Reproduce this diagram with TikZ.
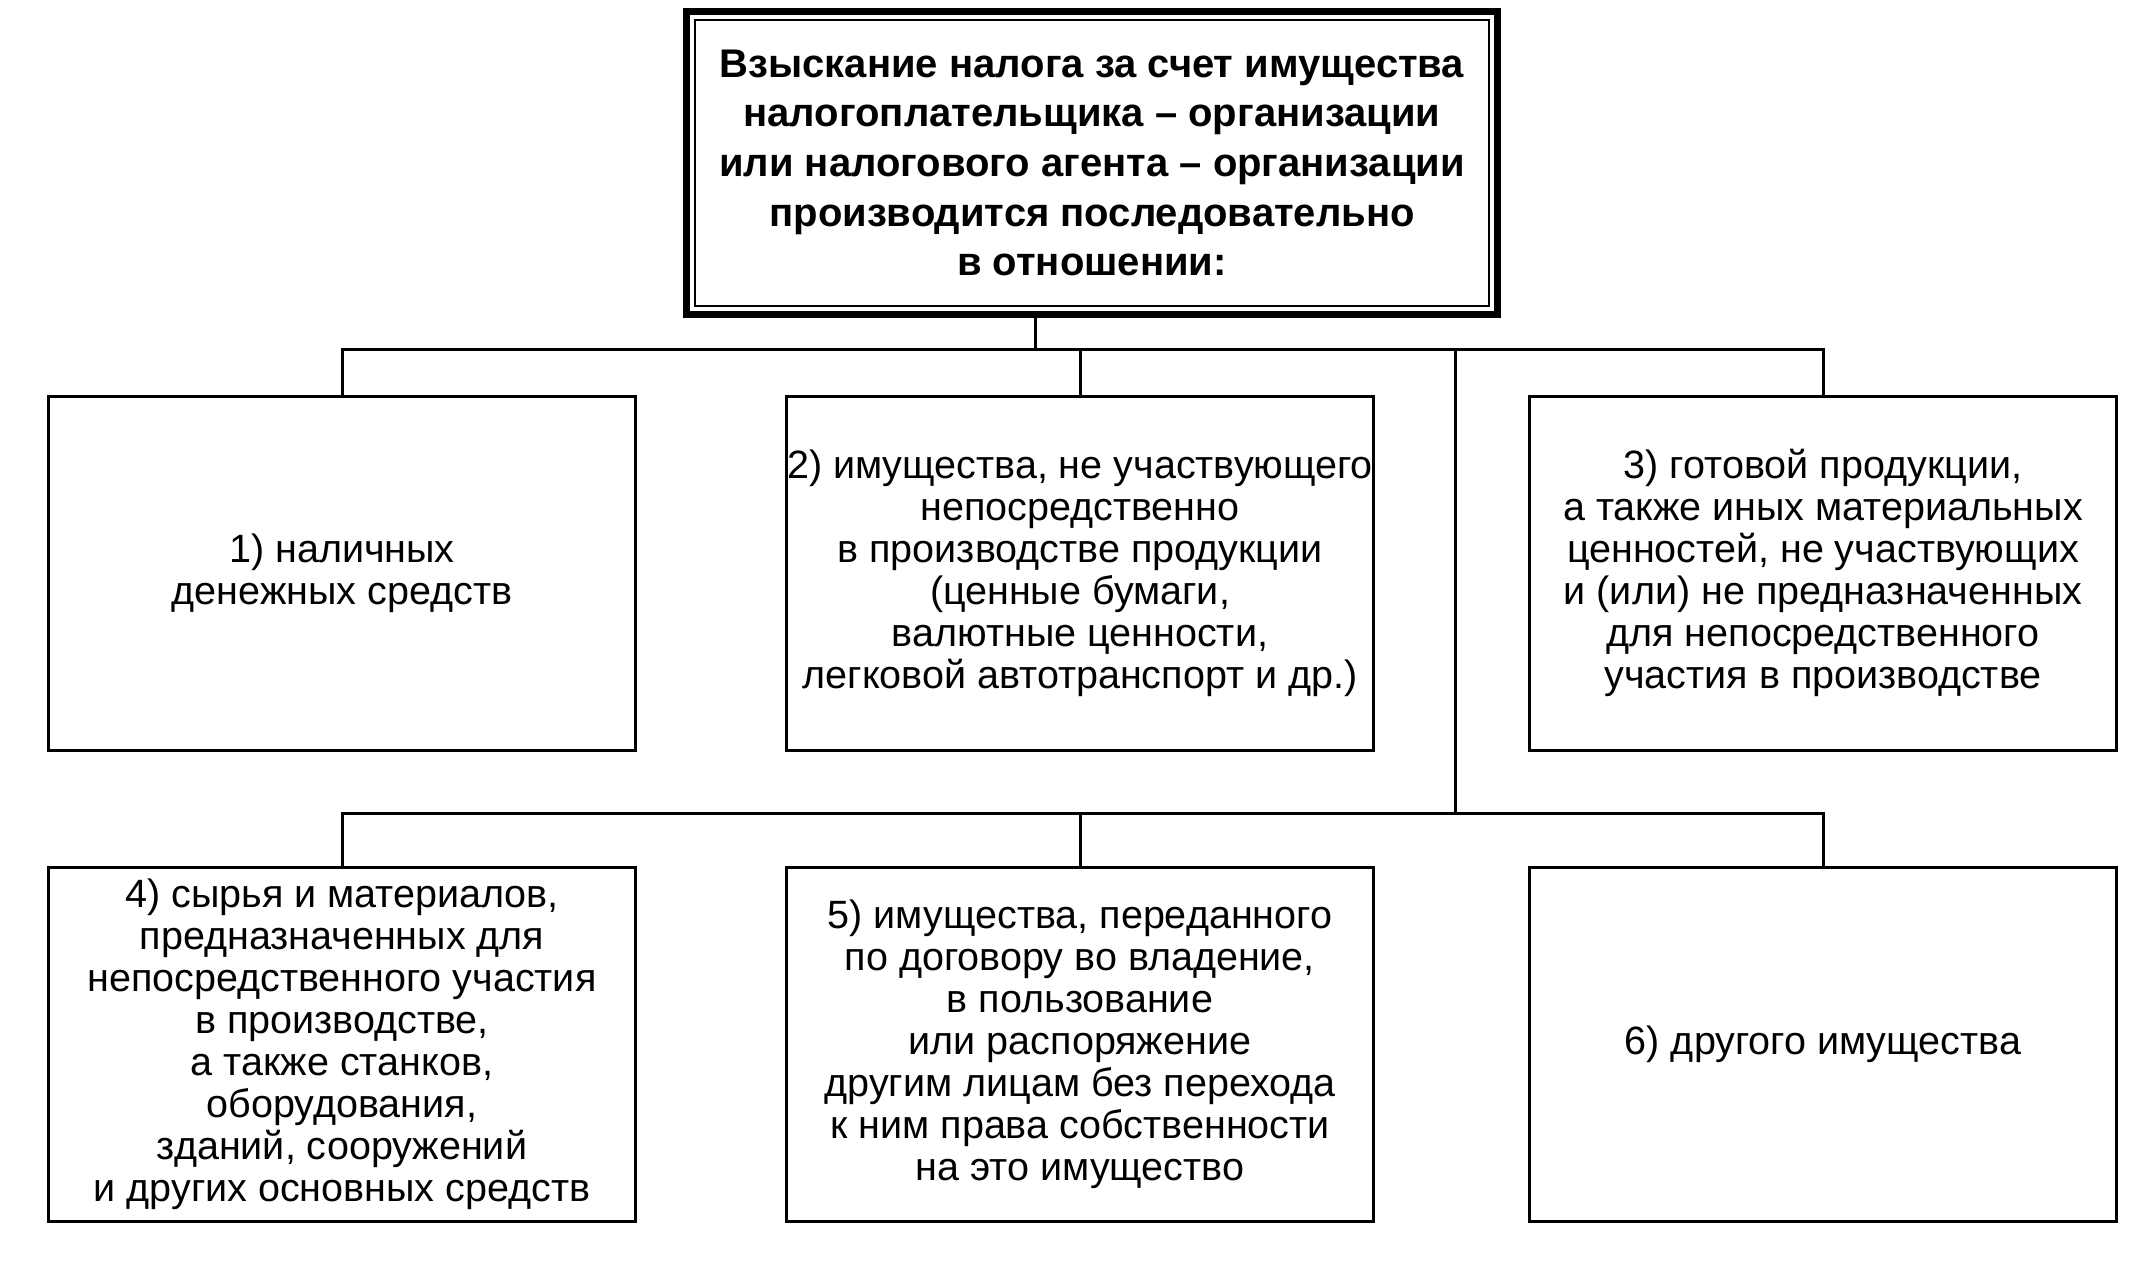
\documentclass[tikz,border=0pt]{standalone}
\usepackage{fontspec}
\setmainfont{Liberation Sans}
\begin{document}
\begin{tikzpicture}[x=1pt,y=-1pt,
  box/.style={draw, line width=3pt, minimum width=587pt, minimum height=354pt,
    align=center, inner sep=0pt, font=\fontsize{39.5}{42}\selectfont},
  topbox/.style={draw, line width=7pt, minimum width=811pt, minimum height=303pt,
    align=center, inner sep=0pt, font=\bfseries\fontsize{40}{49.6}\selectfont},
  conn/.style={line width=3pt, line cap=rect}]
\useasboundingbox[fill=white] (0,0) rectangle (2143,1262);
\node[topbox] (top) at (1092,163) {Взыскание налога за счет имущества\\налогоплательщика – организации\\или налогового агента – организации\\производится последовательно\\в отношении:};
\draw[line width=1.8pt] ([xshift=12pt,yshift=-12pt]top.north west) rectangle ([xshift=-12pt,yshift=12pt]top.south east);
\node[box] (b1) at (342,573) {1) наличных\\денежных средств};
\node[box] (b2) at (1080,573) {2) имущества, не участвующего\\непосредственно\\в производстве продукции\\(ценные бумаги,\\валютные ценности,\\легковой автотранспорт и др.)};
\node[box] (b3) at (1823,573) {3) готовой продукции,\\а также иных материальных\\ценностей, не участвующих\\и (или) не предназначенных\\для непосредственного\\участия в производстве};
\node[box] (b4) at (342,1044) {4) сырья и материалов,\\предназначенных для\\непосредственного участия\\в производстве,\\а также станков,\\оборудования,\\зданий, сооружений\\и других основных средств};
\node[box] (b5) at (1080,1044) {5) имущества, переданного\\по договору во владение,\\в пользование\\или распоряжение\\другим лицам без перехода\\к ним права собственности\\на это имущество};
\node[box] (b6) at (1823,1044) {6) другого имущества};
\coordinate (j1) at (1035,349);
\coordinate (j2) at (1455,813);
\draw[conn] (top.south -| j1) -- (j1);
\draw[conn] (b1.north) |- (j1) -| (b3.north);
\draw[conn] (b2.north) -- (b2.north |- j1);
\draw[conn] (j2 |- j1) -- (j2);
\draw[conn] (b4.north) |- (j2) -| (b6.north);
\draw[conn] (b5.north) -- (b5.north |- j2);
\end{tikzpicture}
\end{document}
